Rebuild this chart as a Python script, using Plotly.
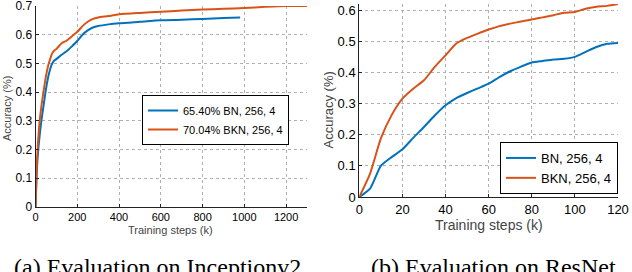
import plotly.graph_objects as go

# ---- Data: (a) Inceptionv2 ----
inc_bn_x = [0, 5, 10, 20, 30, 40, 50, 60, 70, 80, 90, 100, 125, 150, 175, 200, 225, 250, 275, 300, 350, 400, 500, 600, 700, 800, 900, 980]
inc_bn_y = [0, 0.1, 0.17, 0.25, 0.31, 0.36, 0.41, 0.45, 0.48, 0.5, 0.51, 0.515, 0.53, 0.543, 0.56, 0.578, 0.6, 0.615, 0.625, 0.63, 0.636, 0.64, 0.645, 0.65, 0.652, 0.655, 0.658, 0.66]
inc_bkn_x = [0, 5, 10, 20, 30, 40, 50, 60, 70, 80, 90, 100, 125, 150, 175, 200, 225, 250, 275, 300, 350, 400, 500, 600, 700, 800, 900, 1000, 1100, 1200, 1300]
inc_bkn_y = [0, 0.12, 0.2, 0.3, 0.36, 0.41, 0.455, 0.49, 0.515, 0.535, 0.545, 0.55, 0.57, 0.58, 0.595, 0.61, 0.63, 0.645, 0.655, 0.66, 0.665, 0.671, 0.676, 0.68, 0.684, 0.688, 0.69, 0.693, 0.697, 0.7, 0.7]

# ---- Data: (b) ResNet ----
res_x = [0, 5, 10, 15, 20, 25, 30, 35, 40, 45, 50, 55, 60, 65, 70, 75, 80, 85, 90, 95, 100, 105, 110, 115, 120]
res_bn_y = [0, 0.027, 0.1, 0.128, 0.153, 0.19, 0.225, 0.262, 0.295, 0.318, 0.334, 0.349, 0.364, 0.385, 0.404, 0.419, 0.432, 0.437, 0.442, 0.444, 0.45, 0.466, 0.482, 0.492, 0.495]
res_bkn_y = [0, 0.075, 0.188, 0.263, 0.316, 0.348, 0.375, 0.418, 0.455, 0.493, 0.511, 0.525, 0.538, 0.549, 0.557, 0.564, 0.57, 0.577, 0.584, 0.592, 0.594, 0.605, 0.611, 0.614, 0.62]

inc_xticks = [0, 200, 400, 600, 800, 1000, 1200]
inc_yticks = [0, 0.1, 0.2, 0.3, 0.4, 0.5, 0.6, 0.7]
res_xticks = [0, 20, 40, 60, 80, 100, 120]
res_yticks = [0, 0.1, 0.2, 0.3, 0.4, 0.5, 0.6]

BLUE = "#0072BD"
ORANGE = "#D95319"
W, H = 632, 272

fig = go.Figure()
fig.add_trace(go.Scatter(x=inc_bn_x, y=inc_bn_y, mode="lines", name="65.40% BN, 256, 4",
                         line=dict(color=BLUE, width=2, shape="spline", smoothing=0.6), xaxis="x", yaxis="y", legend="legend"))
fig.add_trace(go.Scatter(x=inc_bkn_x, y=inc_bkn_y, mode="lines", name="70.04% BKN, 256, 4",
                         line=dict(color=ORANGE, width=2, shape="spline", smoothing=0.6), xaxis="x", yaxis="y", legend="legend"))
fig.add_trace(go.Scatter(x=res_x, y=res_bn_y, mode="lines", name="BN, 256, 4",
                         line=dict(color=BLUE, width=2, shape="spline", smoothing=0.6), xaxis="x2", yaxis="y2", legend="legend2"))
fig.add_trace(go.Scatter(x=res_x, y=res_bkn_y, mode="lines", name="BKN, 256, 4",
                         line=dict(color=ORANGE, width=2, shape="spline", smoothing=0.6), xaxis="x2", yaxis="y2", legend="legend2"))

def px(x):
    return x / W

def py(y):
    return 1 - y / H

axis_common = dict(showgrid=True, gridcolor="#b0b0b0", griddash="dot", gridwidth=1,
                   showline=True, linecolor="#222", linewidth=1, ticks="inside", ticklen=3,
                   tickcolor="#222", zeroline=False, color="black", automargin=False,
                   ticklabeloverflow="allow")

font_family = "Liberation Sans, Arial, sans-serif"

fig.update_layout(
    width=W, height=H,
    margin=dict(l=0, r=0, t=0, b=0, autoexpand=False),
    paper_bgcolor="white", plot_bgcolor="white",
    font=dict(family=font_family, color="black"),
    xaxis=dict(domain=[px(35.5), px(307)], range=[0, 1300], tickvals=inc_xticks,
               tickfont=dict(size=11), anchor="y", **axis_common),
    yaxis=dict(domain=[py(207), py(6)], range=[0, 0.7], tickvals=inc_yticks,
               ticktext=["0", "0.1", "0.2", "0.3", "0.4", "0.5", "0.6", "0.7"],
               tickfont=dict(size=12), anchor="x", **axis_common),
    xaxis2=dict(domain=[px(359.3), px(618)], range=[0, 120], tickvals=res_xticks,
                tickfont=dict(size=13), anchor="y2", **axis_common),
    yaxis2=dict(domain=[py(197), py(4)], range=[0, 0.62], tickvals=res_yticks,
                ticktext=["0", "0.1", "0.2", "0.3", "0.4", "0.5", "0.6"],
                tickfont=dict(size=13), anchor="x2", **axis_common),
    legend=dict(x=px(142), y=py(95), xanchor="left", yanchor="top",
                bordercolor="black", borderwidth=1, bgcolor="white",
                font=dict(size=11), tracegroupgap=0, itemwidth=30),
    legend2=dict(x=px(618), y=py(142), xanchor="right", yanchor="top",
                 bordercolor="black", borderwidth=1, bgcolor="white",
                 font=dict(size=13), tracegroupgap=0, itemwidth=30),
    showlegend=True,
)

annots = [
    dict(text="Training steps (k)", x=px(170), y=py(230), font=dict(size=11, color="#444")),
    dict(text="Accuracy (%)", x=px(7), y=py(109), textangle=-90, font=dict(size=11, color="#444")),
    dict(text="Training steps (k)", x=px(489), y=py(225), font=dict(size=14, color="#444")),
    dict(text="Accuracy (%)", x=px(327.5), y=py(110), textangle=-90, font=dict(size=13, color="#444")),
    dict(text="(a) Evaluation on Inceptionv2", x=px(157), y=py(267),
         font=dict(size=24, family="Liberation Serif, Times New Roman, serif", color="black")),
    dict(text="(b) Evaluation on ResNet", x=px(493), y=py(267),
         font=dict(size=24, family="Liberation Serif, Times New Roman, serif", color="black")),
]
for a in annots:
    a.update(xref="paper", yref="paper", showarrow=False, xanchor="center", yanchor="middle")
    fig.add_annotation(**a)

fig.write_html("out.html", config={"displayModeBar": False},
               post_script="document.body.style.margin='0';document.body.style.padding='0';")
